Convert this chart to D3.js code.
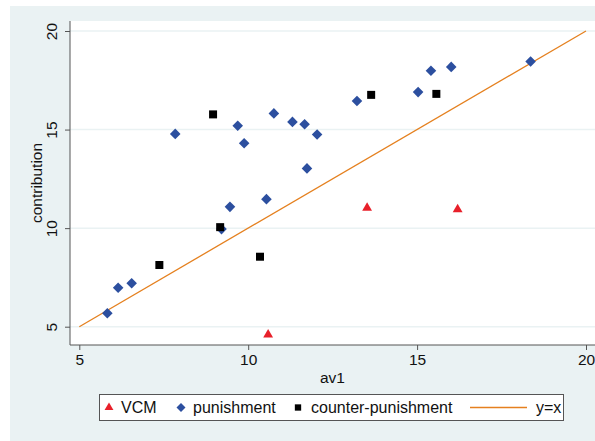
<!DOCTYPE html>
<html>
<head>
<meta charset="utf-8">
<script src="https://cdn.jsdelivr.net/npm/d3@7"></script>
<style>
  html, body { margin: 0; padding: 0; background: #ffffff; }
  svg { display: block; font-family: "Liberation Sans", Arial, Helvetica, sans-serif; }
</style>
</head>
<body>
<svg id="chart" width="595" height="441"></svg>
<script>
// Average first-period contribution (av1) vs. overall contribution, by treatment
const vcmAv1 = [10.59, 13.52, 16.2];
const vcmContribution = [4.6, 11.02, 10.95];

const punishmentAv1 = [5.83, 6.15, 6.55, 7.84, 9.21, 9.46, 9.69, 9.88, 10.54, 10.76,
                       11.31, 11.67, 11.74, 12.04, 13.22, 15.03, 15.41, 16.01, 18.36];
const punishmentContribution = [5.68, 6.98, 7.2, 14.78, 9.95, 11.08, 15.19, 14.31, 11.47, 15.82,
                                15.39, 15.27, 13.03, 14.75, 16.45, 16.9, 17.98, 18.18, 18.45];

const counterAv1 = [7.37, 8.96, 9.17, 10.35, 13.64, 15.57];
const counterContribution = [8.13, 15.77, 10.05, 8.55, 16.76, 16.81];

const diagonal = [5, 20];
const xTicks = [5, 10, 15, 20];
const yTicks = [5, 10, 15, 20];
const legendLabels = ["VCM", "punishment", "counter-punishment", "y=x"];

const colors = { vcm: "#e8202a", pun: "#2c4f9f", counter: "#000000", line: "#e5801f" };

const svg = d3.select("#chart");

// outer graph region
svg.append("rect").attr("x", 10).attr("y", 6).attr("width", 590).attr("height", 440)
  .attr("fill", "#eaf2f3");

const plot = { left: 70, top: 21, right: 600, bottom: 345 };
svg.append("rect").attr("x", plot.left).attr("y", plot.top)
  .attr("width", plot.right - plot.left).attr("height", plot.bottom - plot.top)
  .attr("fill", "#ffffff");

const x = d3.scaleLinear().domain([5, 20]).range([79.3, 586]);
const y = d3.scaleLinear().domain([5, 20]).range([326.7, 31]);

// horizontal grid
svg.append("g").selectAll("line").data(yTicks).join("line")
  .attr("x1", plot.left).attr("x2", plot.right)
  .attr("y1", d => y(d)).attr("y2", d => y(d))
  .attr("stroke", "#eaf2f3").attr("stroke-width", 1.5);

// axes
const axisColor = "#555555";
const xAxis = svg.append("g").attr("transform", `translate(0,${plot.bottom})`)
  .call(d3.axisBottom(x).tickValues(xTicks).tickSize(5).tickPadding(4).tickSizeOuter(0));
xAxis.select(".domain").remove();
xAxis.append("line").attr("x1", plot.left).attr("x2", plot.right).attr("y1", 0).attr("y2", 0)
  .attr("stroke", axisColor);
xAxis.selectAll(".tick line").attr("stroke", axisColor);
xAxis.selectAll(".tick text").attr("font-size", 15.5).attr("fill", "#111")
  .attr("font-family", "Liberation Sans, Arial, sans-serif");

const yAxis = svg.append("g").attr("transform", `translate(${plot.left},0)`)
  .call(d3.axisLeft(y).tickValues(yTicks).tickSize(5).tickSizeOuter(0));
yAxis.select(".domain").remove();
yAxis.append("line").attr("x1", 0).attr("x2", 0).attr("y1", plot.top).attr("y2", plot.bottom)
  .attr("stroke", axisColor);
yAxis.selectAll(".tick line").attr("stroke", axisColor);
yAxis.selectAll(".tick text")
  .attr("x", 0).attr("dy", null).attr("y", 0)
  .attr("transform", "translate(-13,0) rotate(-90)")
  .attr("text-anchor", "middle")
  .attr("font-size", 15.5).attr("fill", "#111")
  .attr("font-family", "Liberation Sans, Arial, sans-serif");

// axis titles
svg.append("text").attr("x", (plot.left + 595) / 2).attr("y", 383)
  .attr("text-anchor", "middle").attr("font-size", 15.5).attr("fill", "#111").text("av1");
svg.append("text").attr("transform", `translate(42,${(plot.top + plot.bottom) / 2}) rotate(-90)`)
  .attr("text-anchor", "middle").attr("font-size", 15.5).attr("fill", "#111").text("contribution");

// y = x reference line
svg.append("line")
  .attr("x1", x(diagonal[0])).attr("y1", y(diagonal[0]))
  .attr("x2", x(diagonal[1])).attr("y2", y(diagonal[1]))
  .attr("stroke", colors.line).attr("stroke-width", 1.3);

// markers
const tri = d3.symbol().type(d3.symbolTriangle).size(42);
const dia = d3.symbol().type(d3.symbolSquare).size(56);
const sq = d3.symbol().type(d3.symbolSquare).size(64);

svg.append("g").selectAll("path").data(vcmAv1.map((v, i) => [v, vcmContribution[i]])).join("path")
  .attr("d", tri).attr("fill", colors.vcm)
  .attr("transform", d => `translate(${x(d[0])},${y(d[1])})`);

svg.append("g").selectAll("path").data(punishmentAv1.map((v, i) => [v, punishmentContribution[i]])).join("path")
  .attr("d", dia).attr("fill", colors.pun)
  .attr("transform", d => `translate(${x(d[0])},${y(d[1])}) rotate(45)`);

svg.append("g").selectAll("path").data(counterAv1.map((v, i) => [v, counterContribution[i]])).join("path")
  .attr("d", sq).attr("fill", colors.counter)
  .attr("transform", d => `translate(${x(d[0])},${y(d[1])})`);

// legend
const lg = svg.append("g");
lg.append("rect").attr("x", 99.5).attr("y", 394.5).attr("width", 464).attr("height", 26)
  .attr("fill", "#ffffff").attr("stroke", "#555555").attr("stroke-width", 1);
const ly = 407.5;
lg.append("path").attr("d", d3.symbol().type(d3.symbolTriangle).size(34))
  .attr("transform", `translate(109,${ly})`).attr("fill", colors.vcm);
lg.append("path").attr("d", d3.symbol().type(d3.symbolSquare).size(40))
  .attr("transform", `translate(181,${ly}) rotate(45)`).attr("fill", colors.pun);
lg.append("path").attr("d", d3.symbol().type(d3.symbolSquare).size(40))
  .attr("transform", `translate(298,${ly})`).attr("fill", colors.counter);
lg.append("line").attr("x1", 470).attr("x2", 527).attr("y1", ly).attr("y2", ly)
  .attr("stroke", colors.line).attr("stroke-width", 1.3);
const textX = [121, 193, 311, 536];
lg.selectAll("text.lab").data(legendLabels).join("text").attr("class", "lab")
  .attr("x", (d, i) => textX[i]).attr("y", ly).attr("dy", "0.36em")
  .attr("font-size", 16).attr("fill", "#111").text(d => d);
</script>
</body>
</html>
